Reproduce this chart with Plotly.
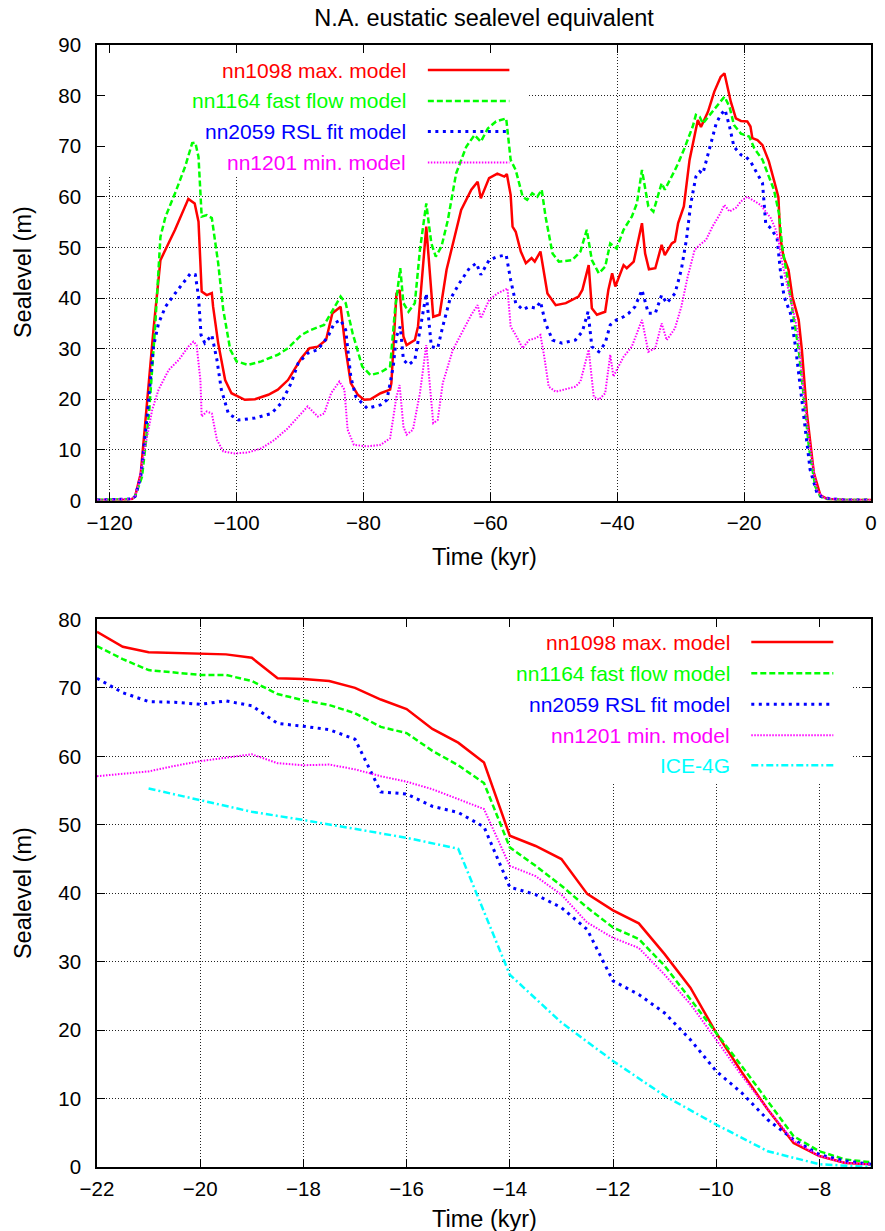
import plotly.graph_objects as go

# ---------------- top panel: full glacial cycle ----------------
t_nn1098 = [-122, -118, -116.5, -116, -115.1, -114.1, -113.1, -112.0, -110.7, -109.7,
            -107.6, -106.6, -106.0, -105.5, -104.7, -103.9, -103.7, -102.9, -101.8, -100.8,
            -98.7, -97.1, -95.0, -93.5, -91.9, -90.9, -89.8, -88.5, -87.2, -85.9,
            -84.9, -83.6, -82.8, -82.0, -80.9, -79.9, -78.9, -77.3, -75.8, -75.6,
            -74.8, -74.3, -73.7, -73.2, -71.9, -71.4, -70.1, -69.0, -68.0, -66.9,
            -65.6, -64.6, -63.0, -62.0, -61.5, -60.2, -58.9, -57.8, -57.4, -56.8,
            -56.5, -56.0, -55.2, -54.4, -53.5, -53.0, -52.1, -51.5, -51.0, -49.7,
            -48.1, -46.1, -45.5, -44.5, -44.0, -43.2, -41.9, -41.4, -40.8, -40.3,
            -39.0, -38.5, -37.4, -36.1, -35.6, -35.0, -34.0, -33.0, -32.5, -31.4,
            -30.9, -30.4, -29.5, -28.6, -27.3, -26.8, -25.7, -24.7, -23.7, -23.1,
            -22.1, -21.3, -20.5, -19.5, -19.0, -18.7, -17.9, -17.1, -16.1, -15.3,
            -14.6, -14.3, -13.8, -13.0, -12.4, -11.4, -10.9, -10.1, -9.0, -8.0,
            -6.9, -4.0, 0.0]
sl_nn1098 = [0.1, 0.1, 0.3, 0.8, 5.4, 19.9, 33.7, 47.5, 50.8, 53.5,
             59.6, 58.7, 55.1, 41.3, 40.6, 41.0, 38.3, 31.1, 23.8, 21.2,
             19.9, 20.0, 20.9, 21.9, 23.8, 25.8, 28.1, 30.1, 30.4, 31.7,
             37.0, 38.3, 29.8, 23.2, 20.9, 19.9, 20.0, 21.2, 21.9, 23.2,
             40.9, 41.6, 32.4, 30.7, 31.7, 34.4, 54.1, 36.3, 36.7, 45.6,
             52.1, 57.4, 61.4, 63.0, 59.7, 63.7, 64.6, 64.0, 64.5, 60.4,
             54.1, 53.1, 49.2, 46.9, 47.9, 47.2, 49.2, 44.2, 40.9, 38.6,
             39.0, 40.3, 41.6, 46.5, 38.0, 36.7, 37.3, 41.6, 44.9, 42.3,
             46.5, 45.9, 47.2, 54.8, 48.8, 45.7, 45.9, 50.5, 48.5, 50.8,
             51.2, 54.8, 58.1, 67.3, 75.2, 73.8, 76.8, 80.8, 83.7, 84.4,
             78.8, 75.5, 75.0, 74.9, 73.9, 71.6, 71.2, 70.2, 67.0, 63.3,
             60.0, 52.1, 48.2, 45.6, 40.3, 35.7, 29.8, 17.2, 5.4, 1.1,
             0.3, 0.1, 0.1]

t_nn1164 = [-122, -116.5, -116, -114.9, -113.8, -112.8, -112.0, -111.2, -109.7, -108.1,
            -107.0, -106.5, -106.0, -105.5, -104.7, -103.9, -102.9, -102.1, -101.0, -100.0,
            -98.2, -96.1, -93.5, -91.9, -89.8, -88.3, -86.2, -85.1, -83.6, -82.8,
            -81.7, -80.2, -78.9, -77.3, -75.8, -75.0, -74.2, -73.7, -72.9, -71.9,
            -71.1, -70.1, -69.3, -68.6, -67.7, -66.7, -65.4, -63.8, -62.5, -61.5,
            -60.4, -59.1, -57.5, -56.8, -56.0, -54.9, -54.2, -53.4, -52.6, -51.9,
            -51.3, -50.2, -49.2, -47.1, -45.8, -44.8, -44.0, -42.9, -41.9, -41.1,
            -40.1, -39.0, -37.7, -36.9, -36.1, -35.1, -34.3, -33.0, -32.5, -30.9,
            -30.4, -29.4, -28.1, -27.6, -27.0, -26.5, -25.2, -23.9, -23.1, -22.3,
            -21.6, -20.5, -19.2, -18.4, -17.1, -16.1, -15.3, -14.5, -14.0, -13.2,
            -12.2, -11.4, -10.6, -9.8, -8.8, -8.0, -6.9, -4.0, 0.0]
sl_nn1164 = [0.1, 0.3, 0.8, 4.7, 17.2, 35.0, 52.1, 56.1, 60.7, 66.0,
             70.6, 70.7, 67.9, 56.1, 56.4, 55.8, 46.9, 37.7, 29.8, 27.5,
             26.8, 27.5, 28.8, 30.1, 32.7, 33.7, 34.7, 37.0, 40.3, 39.0,
             33.0, 26.5, 24.8, 25.3, 26.5, 38.0, 45.9, 39.0, 37.3, 39.0,
             49.5, 58.7, 50.8, 48.2, 50.2, 55.4, 64.6, 69.9, 72.2, 70.9,
             73.5, 74.9, 75.5, 67.3, 65.3, 60.0, 59.4, 60.7, 60.0, 61.4,
             56.1, 48.8, 47.2, 47.5, 49.2, 53.5, 47.5, 44.9, 46.2, 50.8,
             49.8, 53.5, 56.1, 58.7, 65.3, 58.1, 57.1, 62.7, 61.4, 65.3,
             66.6, 69.6, 73.9, 76.2, 75.8, 74.5, 76.5, 78.5, 79.8, 77.8,
             74.2, 72.5, 71.9, 69.6, 67.3, 64.0, 61.4, 56.7, 50.2, 44.2,
             36.3, 29.8, 20.5, 10.7, 2.8, 0.8, 0.3, 0.1, 0.1]

t_nn2059 = [-122, -116.5, -116, -115.1, -114.1, -113.1, -112.3, -111.2, -109.7, -108.1,
            -107.3, -106.5, -106.0, -105.6, -105.0, -103.9, -103.1, -102.4, -101.3, -99.7,
            -97.1, -94.5, -93.0, -91.4, -90.3, -88.8, -87.2, -85.6, -84.6, -83.6,
            -82.8, -82.0, -81.2, -79.4, -77.3, -76.3, -75.3, -74.8, -74.2, -73.7,
            -72.9, -71.9, -71.1, -70.1, -69.3, -68.3, -67.5, -66.4, -64.9, -63.3,
            -62.2, -61.5, -60.2, -58.9, -57.5, -56.8, -56.0, -54.9, -53.9, -52.8,
            -52.1, -51.3, -50.2, -48.7, -46.6, -45.5, -44.6, -44.0, -42.9, -41.9,
            -41.1, -40.1, -39.0, -38.2, -37.2, -36.1, -35.1, -34.0, -33.0, -32.2,
            -30.9, -29.9, -29.1, -28.4, -27.6, -27.0, -26.5, -25.5, -24.4, -23.7,
            -23.0, -22.3, -21.6, -20.5, -19.7, -19.0, -17.9, -17.1, -16.6, -15.8,
            -14.8, -14.3, -13.7, -12.7, -11.9, -11.1, -10.3, -9.6, -8.5, -7.5,
            -4.0, 0.0]
sl_nn2059 = [0.1, 0.3, 0.8, 4.7, 16.6, 30.4, 35.0, 38.3, 40.9, 43.6,
             44.8, 44.6, 40.3, 32.7, 31.1, 32.7, 27.8, 21.9, 17.2, 15.9,
             16.3, 17.2, 19.2, 23.2, 27.1, 29.1, 29.8, 32.4, 35.0, 35.7,
             33.7, 24.5, 20.5, 18.2, 18.9, 19.9, 26.5, 32.4, 34.4, 27.8,
             26.8, 27.8, 33.7, 40.9, 30.4, 30.1, 34.4, 39.6, 42.9, 45.9,
             46.9, 44.6, 47.5, 48.2, 48.5, 43.6, 39.0, 37.7, 38.3, 38.0,
             39.3, 35.0, 31.7, 31.1, 31.7, 33.4, 37.3, 30.4, 29.4, 31.1,
             34.7, 35.7, 36.3, 37.0, 38.3, 41.6, 37.0, 37.0, 40.6, 39.0,
             40.9, 45.6, 51.5, 58.7, 64.0, 65.0, 64.6, 69.3, 74.5, 76.2,
             77.2, 73.9, 69.9, 68.3, 67.9, 67.0, 64.6, 62.7, 54.8, 53.8,
             51.8, 45.6, 40.3, 37.0, 30.4, 21.9, 14.0, 6.1, 1.4, 0.5,
             0.1, 0.1]

t_nn1201 = [-122, -116.5, -116, -115.4, -114.4, -113.3, -112.3, -110.7, -109.1, -107.6,
            -106.8, -106.3, -105.7, -105.5, -104.7, -103.9, -103.1, -102.1, -100.3, -98.2,
            -96.1, -94.0, -91.9, -90.3, -88.8, -87.2, -86.2, -85.1, -83.8, -83.0,
            -82.5, -81.5, -79.4, -77.3, -75.8, -74.8, -74.3, -73.7, -73.2, -72.2,
            -71.1, -70.1, -69.0, -68.3, -67.5, -65.9, -64.3, -63.0, -62.0, -61.5,
            -60.2, -58.9, -57.3, -56.8, -56.0, -54.9, -53.9, -52.8, -52.1, -51.5,
            -50.8, -49.7, -46.6, -45.8, -44.5, -43.7, -42.9, -41.9, -41.1, -40.6,
            -39.8, -39.0, -37.7, -36.1, -35.1, -34.0, -33.0, -32.2, -30.9, -29.9,
            -28.9, -27.8, -27.0, -26.0, -25.0, -23.9, -23.1, -22.3, -21.3, -20.5,
            -19.5, -18.4, -17.4, -16.6, -15.8, -15.0, -14.5, -14.0, -13.2, -12.4,
            -11.6, -10.9, -10.1, -9.3, -8.5, -7.5, -4.0, 0.0]
sl_nn1201 = [0.1, 0.3, 0.8, 3.4, 10.7, 17.9, 21.9, 25.8, 27.8, 30.4,
             31.4, 30.7, 23.8, 16.6, 17.6, 17.2, 12.0, 9.7, 9.3, 9.5,
             10.3, 12.0, 14.3, 16.6, 18.6, 16.6, 17.2, 21.2, 23.5, 21.9,
             14.0, 11.0, 10.7, 11.0, 12.3, 20.5, 22.8, 14.6, 13.0, 14.0,
             21.2, 30.7, 15.3, 15.9, 23.2, 29.8, 33.7, 36.7, 38.6, 36.0,
             39.6, 40.9, 41.9, 34.4, 32.7, 30.1, 31.7, 32.1, 32.7, 28.4,
             22.5, 21.5, 22.5, 23.5, 29.8, 20.5, 19.9, 21.2, 28.8, 24.5,
             26.5, 28.4, 30.4, 35.7, 29.4, 30.1, 35.0, 31.7, 34.0, 38.3,
             44.2, 49.5, 50.5, 51.5, 54.1, 56.4, 58.4, 57.1, 57.8, 59.1,
             60.0, 59.1, 58.4, 57.1, 55.8, 53.5, 50.8, 46.9, 42.9, 38.3,
             33.7, 25.5, 15.6, 8.0, 2.1, 0.5, 0.1, 0.1]

# ---------------- bottom panel: deglaciation ----------------
t_deglac = [-22.0, -21.5, -21.0, -20.5, -20.0, -19.5, -19.0, -18.5, -18.0, -17.5,
            -17.0, -16.5, -16.0, -15.5, -15.0, -14.5, -14.0, -13.5, -13.0, -12.5,
            -12.0, -11.5, -11.0, -10.5, -10.0, -9.5, -9.0, -8.5, -8.0, -7.5, -7.0]
d_nn1098 = [78.2, 76.0, 75.2, 75.1, 74.9, 74.9, 74.4, 71.4, 71.3, 71.0,
            70.0, 68.3, 66.9, 64.0, 62.0, 59.1, 48.4, 46.9, 45.0, 39.9,
            37.5, 35.6, 31.1, 26.2, 19.6, 13.8, 8.4, 3.5, 1.6, 0.6, 0.4]
d_nn1164 = [76.1, 74.2, 72.6, 72.3, 71.9, 71.9, 71.0, 69.1, 68.2, 67.5,
            66.3, 64.3, 63.4, 60.8, 58.7, 56.1, 46.7, 44.0, 41.1, 37.9,
            35.0, 33.3, 29.4, 24.5, 19.6, 14.7, 9.6, 4.5, 2.3, 1.1, 0.7]
d_nn2059 = [71.4, 69.3, 68.0, 67.9, 67.6, 68.1, 67.4, 64.8, 64.4, 63.9,
            62.5, 54.8, 54.5, 52.7, 51.8, 49.7, 40.9, 39.8, 37.9, 34.7,
            27.2, 25.2, 22.5, 18.6, 14.0, 10.8, 6.9, 4.0, 1.8, 0.9, 0.4]
d_nn1201 = [57.1, 57.4, 57.8, 58.6, 59.3, 59.8, 60.3, 59.0, 58.7, 58.8,
            58.1, 57.1, 56.3, 55.2, 53.7, 52.3, 44.0, 42.5, 39.8, 35.7,
            33.5, 32.0, 28.1, 23.8, 18.6, 13.3, 8.4, 3.8, 1.6, 0.6, 0.4]
t_ice4g = [-21, -20, -19, -18, -17, -16, -15, -14, -13, -12, -11, -10, -9, -8, -7]
d_ice4g = [55.3, 53.6, 51.9, 50.7, 49.4, 48.1, 46.5, 28.1, 21.1, 15.5, 10.4, 6.2, 2.3, 0.4, 0.0]

names = ["nn1098 max. model", "nn1164 fast flow model", "nn2059 RSL fit model",
         "nn1201 min. model", "ICE-4G"]
colors = ["#ff0000", "#00ff00", "#0000ff", "#ff00ff", "#00ffff"]
dashes = ["solid", "6px,3px", "3px,4.5px", "1.5px,1.5px", "7px,3px,2px,3px"]
widths = [2.5, 2.5, 3, 2, 2.5]

FONT = "Liberation Sans, Arial, Helvetica, sans-serif"

fig = go.Figure()

top_series = [(t_nn1098, sl_nn1098), (t_nn1164, sl_nn1164),
              (t_nn2059, sl_nn2059), (t_nn1201, sl_nn1201)]
for i, (tx, ty) in enumerate(top_series):
    fig.add_trace(go.Scatter(x=tx, y=ty, mode="lines", xaxis="x", yaxis="y",
                             line=dict(color=colors[i], width=widths[i], dash=dashes[i]),
                             showlegend=False, hoverinfo="skip"))

bot_series = [(t_deglac, d_nn1098), (t_deglac, d_nn1164), (t_deglac, d_nn2059),
              (t_deglac, d_nn1201), (t_ice4g, d_ice4g)]
for i, (tx, ty) in enumerate(bot_series):
    fig.add_trace(go.Scatter(x=tx, y=ty, mode="lines", xaxis="x2", yaxis="y2",
                             line=dict(color=colors[i], width=widths[i], dash=dashes[i]),
                             showlegend=False, hoverinfo="skip"))

axis_common = dict(showline=True, linecolor="black", linewidth=1.5, mirror="allticks",
                   ticks="inside", ticklen=8, tickwidth=1, tickcolor="black",
                   showgrid=True, gridcolor="#222222", gridwidth=1, griddash="1px,2px",
                   zeroline=False, tickfont=dict(family=FONT, size=20.5, color="black"))
xcommon = dict(axis_common, ticklabelstandoff=3)
ycommon = dict(axis_common, ticklabelstandoff=10)

fig.update_layout(
    width=885, height=1231,
    margin=dict(l=97, r=8, t=45, b=64),
    paper_bgcolor="white", plot_bgcolor="white",
    xaxis=dict(domain=[0, 1], anchor="y", range=[-122, 0], tick0=-120, dtick=20, **xcommon),
    yaxis=dict(domain=[0.594, 1], anchor="x", range=[0, 90], tick0=0, dtick=10, **ycommon),
    xaxis2=dict(domain=[0, 1], anchor="y2", range=[-22, -7], tick0=-22, dtick=2, **xcommon),
    yaxis2=dict(domain=[0, 0.488], anchor="x2", range=[0, 80], tick0=0, dtick=10, **ycommon),
    title=dict(text="N.A. eustatic sealevel equivalent", x=0.5, xref="paper",
               y=1 - 18 / 1231, yref="container", yanchor="middle", xanchor="center",
               font=dict(family=FONT, size=23.5, color="black")),
    showlegend=False,
)

# key boxes hide the grid (drawn between grid and data)
shapes = [
    dict(type="rect", xref="x", yref="y", x0=-122, x1=-54, y0=63.9, y1=90,
         fillcolor="white", line=dict(width=0), layer="between"),
    dict(type="rect", xref="x2", yref="y2", x0=-17.5, x1=-7.38, y0=56.2, y1=80,
         fillcolor="white", line=dict(width=0), layer="between"),
]
annotations = []

# top key
top_rows = [85.05, 78.95, 72.9, 66.8]
for i in range(4):
    annotations.append(dict(x=-73.0, y=top_rows[i], xref="x", yref="y", text=names[i],
                            showarrow=False, xanchor="right", yanchor="middle",
                            font=dict(family=FONT, size=21, color=colors[i])))
    shapes.append(dict(type="line", xref="x", yref="y", x0=-69.85, x1=-57.0,
                       y0=top_rows[i], y1=top_rows[i], layer="above",
                       line=dict(color=colors[i], width=widths[i], dash=dashes[i])))

# bottom key
bot_rows = [76.7, 72.15, 67.6, 63.1, 58.7]
for i in range(5):
    annotations.append(dict(x=-9.70, y=bot_rows[i], xref="x2", yref="y2", text=names[i],
                            showarrow=False, xanchor="right", yanchor="middle",
                            font=dict(family=FONT, size=21, color=colors[i])))
    shapes.append(dict(type="line", xref="x2", yref="y2", x0=-9.32, x1=-7.73,
                       y0=bot_rows[i], y1=bot_rows[i], layer="above",
                       line=dict(color=colors[i], width=widths[i], dash=dashes[i])))

# axis titles
def py(p):
    return (1167 - p) / 1122

for yc in (py(272.5), py(893.5)):
    annotations.append(dict(x=-75 / 780, y=yc, xref="paper", yref="paper", text="Sealevel (m)",
                            textangle=-90, showarrow=False, xanchor="center", yanchor="middle",
                            font=dict(family=FONT, size=23.5, color="black")))
for yc in (py(557), py(1219)):
    annotations.append(dict(x=0.5, y=yc, xref="paper", yref="paper", text="Time (kyr)",
                            showarrow=False, xanchor="center", yanchor="middle",
                            font=dict(family=FONT, size=23.5, color="black")))

fig.update_layout(shapes=shapes, annotations=annotations)
fig.write_html("out.html")
